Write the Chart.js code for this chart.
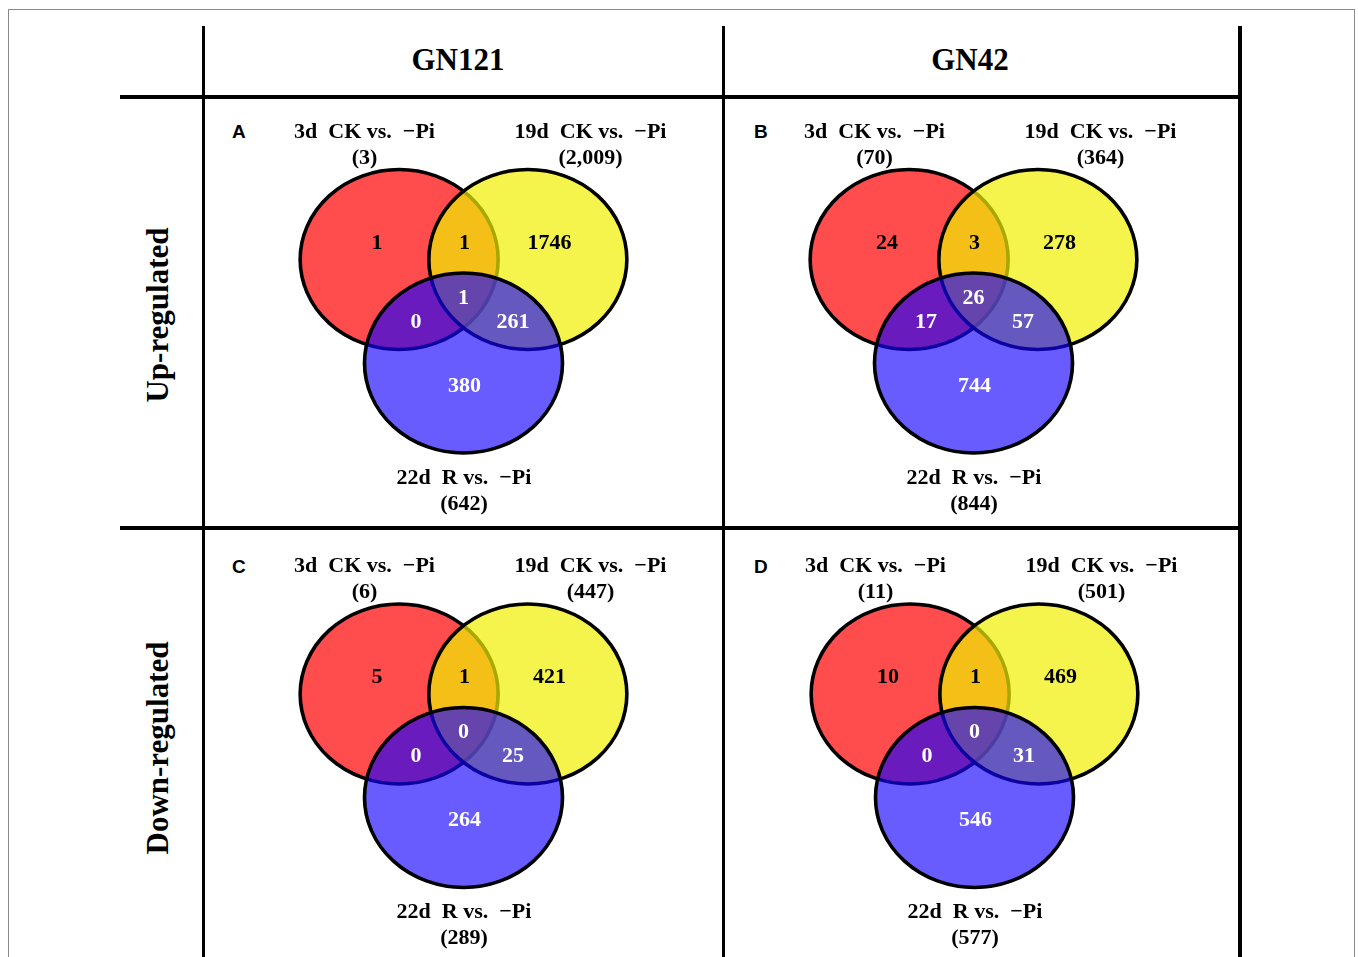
<!DOCTYPE html>
<html><head><meta charset="utf-8">
<script src="https://cdn.jsdelivr.net/npm/chart.js@4"></script>
<style>
html,body{margin:0;padding:0;background:#fff;}
body{width:1358px;height:957px;position:relative;overflow:hidden;font-family:"Liberation Serif","Times New Roman",serif;}
.frame{position:absolute;left:8px;top:9px;width:1347px;height:970px;border:1.5px solid #8a8a8a;box-sizing:border-box;}
.ln{position:absolute;background:#000;}
.hdr{position:absolute;font-weight:bold;font-size:31px;transform:translate(-50%,-50%);white-space:nowrap;}
.row{position:absolute;font-weight:bold;font-size:31px;transform:translate(-50%,-50%) rotate(-90deg);white-space:nowrap;}
.let{position:absolute;font-family:"Liberation Sans",Arial,sans-serif;font-weight:bold;font-size:19px;transform:translateY(-50%);}
canvas{position:absolute;}
</style></head>
<body>
<div class="frame"></div>
<div class="ln" style="left:201.5px;top:26px;width:3px;height:940px"></div>
<div class="ln" style="left:721.5px;top:26px;width:3px;height:940px"></div>
<div class="ln" style="left:1238px;top:26px;width:4px;height:940px"></div>
<div class="ln" style="left:120px;top:95px;width:1122px;height:4px"></div>
<div class="ln" style="left:120px;top:525.5px;width:1122px;height:4px"></div>
<div id="hdrs"></div>
<canvas id="cA" width="515" height="426" style="left:206px;top:100px"></canvas>
<canvas id="cB" width="513" height="426" style="left:726px;top:100px"></canvas>
<canvas id="cC" width="515" height="427" style="left:206px;top:530px"></canvas>
<canvas id="cD" width="513" height="427" style="left:726px;top:530px"></canvas>
<script>
// ---- data ----
const columns = ['GN121', 'GN42'];
const rows = ['Up-regulated', 'Down-regulated'];
const panelLetters = ['A', 'B', 'C', 'D'];
const setNames = ['3d  CK vs.  \u2212Pi', '19d  CK vs.  \u2212Pi', '22d  R vs.  \u2212Pi'];
// totals per set: [3d CK vs -Pi, 19d CK vs -Pi, 22d R vs -Pi]
const totalsA = [3, 2009, 642];
const totalsB = [70, 364, 844];
const totalsC = [6, 447, 289];
const totalsD = [11, 501, 577];
// region counts: [3d only, 3d&19d, 19d only, all three, 3d&22d, 19d&22d, 22d only]
const regionNames = ['3d only', '3d & 19d', '19d only', '3d & 19d & 22d', '3d & 22d', '19d & 22d', '22d only'];
const countsA = [1, 1, 1746, 1, 0, 261, 380];
const countsB = [24, 3, 278, 26, 17, 57, 744];
const countsC = [5, 1, 421, 0, 0, 25, 264];
const countsD = [10, 1, 469, 0, 0, 31, 546];

// ---- geometry (Venn layout in data units; 1 unit = one circle radius) ----
const circleCenters = [[-0.65, 0], [0.65, 0], [0, -1.15]];
const circleFills = ['rgba(255,0,0,0.7)', 'rgba(240,240,0,0.7)', 'rgba(20,0,255,0.64)'];
const regionPos = [[-0.874, 0.183], [0.01, 0.183], [0.869, 0.183], [0.0, -0.428], [-0.48, -0.694], [0.5, -0.694], [0.01, -1.405]];
const regionTextColor = ['#000', '#000', '#000', '#fff', '#fff', '#fff', '#fff'];
const titlePos = [[[-1.0, 1.417], [-1.0, 1.128]], [[1.283, 1.417], [1.283, 1.128]], [[0.005, -2.428], [0.005, -2.717]]];

// ---- page layout ----
const hdrs = document.getElementById('hdrs');
function addDiv(cls, text, css) { const d = document.createElement('div'); d.className = cls; d.textContent = text; d.style.cssText = css; hdrs.appendChild(d); }
addDiv('hdr', columns[0], 'left:458px;top:60px');
addDiv('hdr', columns[1], 'left:970px;top:60px');
addDiv('row', rows[0], 'left:158px;top:315px');
addDiv('row', rows[1], 'left:158px;top:748px');
addDiv('let', panelLetters[0], 'left:232px;top:132px');
addDiv('let', panelLetters[1], 'left:754px;top:132px');
addDiv('let', panelLetters[2], 'left:232px;top:567px');
addDiv('let', panelLetters[3], 'left:754px;top:567px');

const UX = 99, UY = 90; // pixels per data unit
const FONT = 'bold 22px "Liberation Serif","Times New Roman",serif';

const vennPlugin = {
  id: 'venn',
  beforeDatasetsDraw(chart) {
    const { ctx, scales: { x, y } } = chart;
    ctx.save();
    circleCenters.forEach((c, i) => {
      const px = x.getPixelForValue(c[0]), py = y.getPixelForValue(c[1]);
      const rx = Math.abs(x.getPixelForValue(c[0] + 1) - px);
      const ry = Math.abs(y.getPixelForValue(c[1] + 1) - py);
      ctx.beginPath();
      ctx.ellipse(px, py, rx, ry, 0, 0, Math.PI * 2);
      ctx.fillStyle = circleFills[i];
      ctx.fill();
      ctx.lineWidth = 3.6;
      ctx.strokeStyle = '#000';
      ctx.stroke();
    });
    ctx.restore();
  },
  afterDatasetsDraw(chart) {
    const { ctx, scales: { x, y } } = chart;
    const opts = chart.options.plugins.venn;
    ctx.save();
    ctx.font = FONT;
    ctx.textAlign = 'center';
    ctx.textBaseline = 'middle';
    const meta = chart.getDatasetMeta(0);
    meta.data.forEach((pt, i) => {
      ctx.fillStyle = regionTextColor[i];
      ctx.fillText(String(chart.data.datasets[0].data[i].v), pt.x, pt.y);
    });
    ctx.fillStyle = '#000';
    titlePos.forEach((tp, i) => {
      ctx.fillText(setNames[i], x.getPixelForValue(tp[0][0]), y.getPixelForValue(tp[0][1]));
      ctx.fillText('(' + opts.totals[i].toLocaleString('en-US') + ')', x.getPixelForValue(tp[1][0]), y.getPixelForValue(tp[1][1]));
    });
    ctx.restore();
  }
};

function makePanel(id, counts, totals, left, top, w, h, cx, cy) {
  new Chart(document.getElementById(id), {
    type: 'scatter',
    data: {
      datasets: [{
        label: 'regions',
        data: regionPos.map((p, i) => ({ x: p[0], y: p[1], v: counts[i], name: regionNames[i] })),
        pointRadius: 0,
        pointHoverRadius: 0
      }]
    },
    options: {
      responsive: false,
      animation: false,
      devicePixelRatio: 1,
      events: [],
      layout: { padding: 0 },
      plugins: { legend: { display: false }, tooltip: { enabled: false }, venn: { totals } },
      scales: {
        x: { type: 'linear', display: false, min: -(cx - left) / UX, max: (left + w - cx) / UX },
        y: { type: 'linear', display: false, min: -(top + h - cy) / UY, max: (cy - top) / UY }
      }
    },
    plugins: [vennPlugin]
  });
}
makePanel('cA', countsA, totalsA, 206, 100, 515, 426, 463.5, 259.5);
makePanel('cB', countsB, totalsB, 726, 100, 513, 426, 973.5, 259.5);
makePanel('cC', countsC, totalsC, 206, 530, 515, 427, 463.5, 694);
makePanel('cD', countsD, totalsD, 726, 530, 513, 427, 974.5, 694);
</script>
</body></html>
